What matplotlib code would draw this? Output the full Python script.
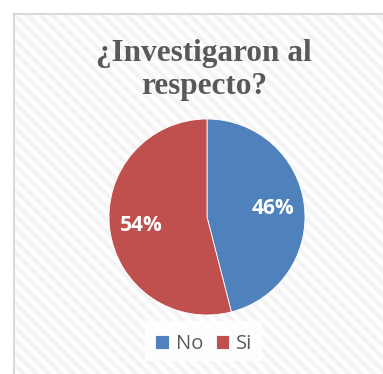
import numpy as np
import matplotlib
matplotlib.use("Agg")
import matplotlib.pyplot as plt
from matplotlib.patches import Rectangle

# datos
categorias = ["No", "Si"]
valores = [46, 54]
colores = ["#4F81BD", "#C0504D"]
titulo = "¿Investigaron al\nrespecto?"

W, H = 383, 374
fig = plt.figure(figsize=(W / 100, H / 100), dpi=100)

# fondo con rayas diagonales
bg = fig.add_axes([0, 0, 1, 1])
bg.set_xlim(0, W)
bg.set_ylim(H, 0)
bg.axis("off")
yy, xx = np.mgrid[0:H, 0:W]
P = 12.5
stripe = 0.5 + 0.5 * np.cos(2 * np.pi * (xx - yy) / P)
img = 1 - 0.05 * stripe
img[:, :13] = 1
img[:13, :] = 1
bg.imshow(img, cmap="gray", vmin=0, vmax=1, extent=(0, W, H, 0), interpolation="bilinear")
bg.plot([13.5, 13.5], [13.5, H], color="#D9D9D9", lw=1.5)
bg.plot([13.5, W], [13.5, 13.5], color="#D9D9D9", lw=1.5)

# titulo
bg.text(204, 70, titulo, ha="center", va="center", fontsize=22.5, fontweight="bold",
        family="Liberation Serif", color="#595959", linespacing=1.17)

# pastel
cx, cy, r = 207, 217, 98
ax = fig.add_axes([(cx - r) / W, (H - cy - r) / H, 2 * r / W, 2 * r / H])
wedges, textos, autotextos = ax.pie(
    valores, colors=colores, startangle=90, counterclock=False,
    autopct="%1.0f%%", pctdistance=0.68, radius=1,
    wedgeprops=dict(edgecolor="white", linewidth=0.6),
    textprops=dict(color="white", fontsize=15, fontweight="bold", family="Open Sans"))
ax.set_xlim(-1, 1)
ax.set_ylim(-1, 1)
ax.set_aspect("equal")

# leyenda
bg.add_patch(Rectangle((145, 321), 117, 40, facecolor="white", edgecolor="none", alpha=0.85))
leg = fig.legend(wedges, categorias, loc="center", bbox_to_anchor=(204 / W, 1 - 344 / H),
                 ncol=2, frameon=False, handlelength=0.68, handleheight=0.68,
                 handletextpad=0.35, columnspacing=0.6,
                 prop=dict(family="Open Sans", size=14.5))
for t in leg.get_texts():
    t.set_color("#595959")

fig.savefig("out.png", dpi=100)
